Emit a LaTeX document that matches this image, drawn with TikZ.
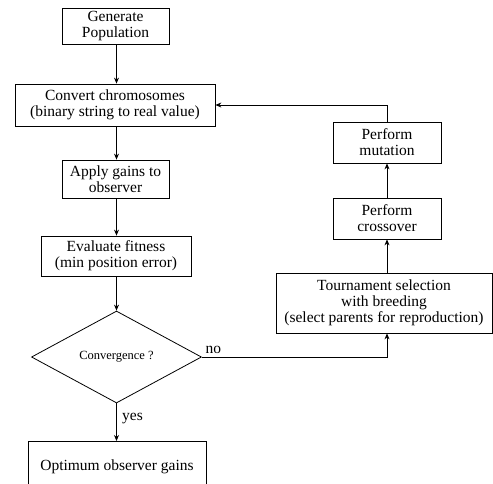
\documentclass[tikz,border=0pt]{standalone}
\usepackage{fontspec}
\setmainfont{Liberation Serif}
\usetikzlibrary{shapes.geometric,arrows.meta,calc}
\begin{document}
\begin{tikzpicture}[x=1pt,y=-1pt,
  every node/.style={font=\fontsize{15.5}{16}\selectfont},
  box/.style={draw,line width=0.8pt,rectangle,inner sep=0pt,align=center},
  dia/.style={draw,line width=0.8pt,diamond,inner sep=0pt,aspect=1.85},
  conn/.style={line width=0.8pt,-{Stealth[length=6pt,width=5pt]}},
  plain/.style={line width=0.8pt}]
\useasboundingbox (0,0) rectangle (493,483);
\node[box,minimum width=107pt,minimum height=36pt] (gen) at (115.5,26) {Generate\\Population};
\node[box,minimum width=200pt,minimum height=42pt] (conv) at (115,105) {Convert chromosomes\\(binary string to real value)};
\node[box,minimum width=107pt,minimum height=38pt] (apply) at (115.5,179) {Apply gains to\\observer};
\node[box,minimum width=150pt,minimum height=40pt] (eval) at (116,256) {Evaluate fitness\\(min position error)};
\node[dia,minimum width=170pt,minimum height=92pt,font=\fontsize{12.5}{14}\selectfont] (conv2) at (116.5,357) {Convergence ?};
\node[box,minimum width=178pt,minimum height=56pt,anchor=north] (opt) at (117,441) {};
\node (optt) at (117,467) {Optimum observer gains};
\node[box,minimum width=108pt,minimum height=41pt] (mut) at (387,142.5) {Perform\\mutation};
\node[box,minimum width=108pt,minimum height=41pt] (cross) at (387,218.5) {Perform\\crossover};
\node[box,minimum width=216pt,minimum height=60pt] (tour) at (384,303) {Tournament selection\\with breeding\\(select parents for reproduction)};
\draw[conn] (gen.south -| conv2.north) -- (conv.north -| conv2.north);
\draw[conn] (conv.south -| conv2.north) -- (apply.north -| conv2.north);
\draw[conn] (apply.south -| conv2.north) -- (eval.north -| conv2.north);
\draw[conn] (eval.south -| conv2.north) -- (conv2.north);
\draw[conn] (conv2.south) -- node[right,pos=0.4,xshift=2pt] {yes} (opt.north -| conv2.south);
\coordinate (tb) at (mut.south |- tour.south);
\draw[conn] (conv2.east) -- node[above,pos=0.04,xshift=4pt] {no} (conv2.east -| tb) -- (tb);
\draw[conn] (tour.north -| mut.south) -- (cross.south);
\draw[conn] (cross.north) -- (mut.south);
\draw[conn] (mut.north) |- (conv.east);
\end{tikzpicture}
\end{document}
